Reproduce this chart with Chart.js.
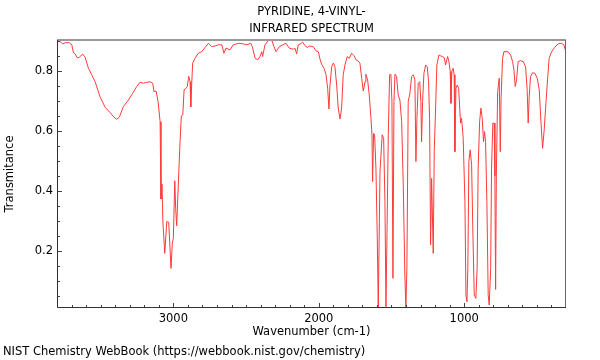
<!DOCTYPE html>
<html><head><meta charset="utf-8">
<script src="https://cdn.jsdelivr.net/npm/chart.js@4/dist/chart.umd.min.js"></script>
<style>html,body{margin:0;padding:0;background:#fff}</style>
</head><body>
<canvas id="c" width="600" height="360"></canvas>
<script>
const titleLines = ['PYRIDINE, 4-VINYL-', 'INFRARED SPECTRUM'];
const xAxisTitle = 'Wavenumber (cm-1)';
const yAxisTitle = 'Transmitance';
const footerText = 'NIST Chemistry WebBook (https://webbook.nist.gov/chemistry)';
const xTickLabels = [3000, 2000, 1000];
const yTickLabels = [0.2, 0.4, 0.6, 0.8];

const wavenumber = [
3797,3779,3760,3744,3715,3698,3687,3676,3660,3646,3623,3607,3584,3561,3538,3504,3469,3435,3408,3389,
3371,3344,3309,3279,3252,3229,3206,3183,3160,3142,3133,3119,3105,3091,3085,3078,3072,3059,3045,3032,
3025,3016,3007,3000,2990,2984,2977,2966,2954,2945,2935,2926,2913,2904,2894,2885,2880,2874,2867,2851,
2828,2805,2782,2759,2736,2713,2691,2667,2652,2638,2610,2588,2553,2519,2496,2468,2457,2438,2420,2404,
2392,2386,2370,2347,2324,2308,2294,2271,2248,2225,2203,2175,2164,2152,2141,2129,2111,2095,2079,2065,
2038,2019,2003,1992,1980,1964,1950,1939,1930,1923,1911,1900,1889,1877,1866,1854,1843,1832,1820,1804,
1790,1774,1758,1744,1729,1717,1705,1694,1682,1676,1664,1653,1641,1634,1630,1623,1616,1607,1598,1591,
1579,1564,1554,1545,1538,1531,1522,1513,1504,1497,1490,1483,1476,1465,1454,1442,1430,1419,1408,1401,
1394,1385,1373,1362,1350,1339,1332,1325,1316,1306,1298,1293,1286,1277,1265,1254,1245,1238,1231,1224,
1213,1206,1196,1188,1174,1167,1151,1137,1128,1114,1105,1096,1091,1085,1076,1069,1064,1057,1048,1038,
1032,1025,1018,1007,995,988,981,975,968,959,949,940,931,920,911,904,894,885,876,867,
860,853,844,835,828,818,812,803,794,789,784,779,770,759,752,746,736,727,698,681,
667,658,649,640,629,612,594,578,567,560,553,544,530,514,498,484,473,461,450,438,
427,416,399,377,354,331,315,306,300
];
const transmittance = [
0.901,0.898,0.890,0.894,0.894,0.887,0.861,0.857,0.843,0.846,0.856,0.846,0.809,0.787,0.764,0.714,0.679,0.661,0.646,0.639,
0.646,0.681,0.703,0.726,0.748,0.762,0.759,0.762,0.764,0.759,0.731,0.733,0.698,0.631,0.373,0.423,0.300,0.192,0.298,0.296,
0.230,0.142,0.226,0.242,0.434,0.342,0.284,0.420,0.564,0.650,0.653,0.737,0.742,0.748,0.782,0.764,0.680,0.753,0.826,0.842,
0.859,0.864,0.878,0.892,0.881,0.883,0.887,0.887,0.859,0.876,0.870,0.887,0.892,0.890,0.887,0.892,0.881,0.842,0.837,0.848,
0.864,0.848,0.887,0.901,0.903,0.881,0.864,0.881,0.887,0.892,0.876,0.872,0.876,0.857,0.887,0.889,0.896,0.884,0.878,0.883,
0.881,0.867,0.864,0.840,0.822,0.809,0.787,0.742,0.673,0.753,0.814,0.826,0.814,0.753,0.676,0.640,0.676,0.787,0.820,0.848,
0.842,0.859,0.851,0.837,0.833,0.826,0.776,0.733,0.764,0.789,0.770,0.720,0.642,0.587,0.431,0.592,0.587,0.476,0.253,0.010,
0.464,0.587,0.576,0.364,0.014,0.253,0.587,0.787,0.789,0.698,0.109,0.698,0.789,0.781,0.720,0.703,0.631,0.420,0.120,0.010,
0.143,0.698,0.726,0.781,0.787,0.770,0.498,0.642,0.759,0.764,0.698,0.564,0.698,0.792,0.820,0.814,0.764,0.642,0.220,0.442,
0.192,0.531,0.687,0.820,0.853,0.851,0.848,0.844,0.820,0.848,0.831,0.798,0.692,0.798,0.809,0.787,0.531,0.742,0.753,0.742,
0.687,0.626,0.642,0.576,0.364,0.053,0.031,0.142,0.498,0.537,0.487,0.253,0.053,0.042,0.142,0.476,0.631,0.676,0.642,0.564,
0.598,0.564,0.364,0.053,0.020,0.142,0.476,0.626,0.626,0.450,0.072,0.450,0.731,0.776,0.531,0.714,0.842,0.864,0.864,0.853,
0.831,0.803,0.748,0.770,0.831,0.834,0.831,0.814,0.737,0.626,0.714,0.781,0.794,0.792,0.776,0.737,0.637,0.542,0.603,0.692,
0.770,0.842,0.864,0.879,0.890,0.892,0.887,0.872,0.865
];

const xMin = 300, xMax = 3800, xMinorStep = 100;
const yMin = 0.01, yMax = 0.903, yMinorStep = 0.05;

const FONT_SIZE = 11.5;
const FONT = FONT_SIZE + 'px "DejaVu Sans"';

const decorPlugin = {
  id: 'decor',
  afterDraw(chart) {
    const ctx = chart.ctx, a = chart.chartArea;
    const xs = chart.scales.x, ys = chart.scales.y;
    ctx.save();
    ctx.strokeStyle = '#444';
    ctx.lineWidth = 1;
    ctx.beginPath();
    for (let v = 400; v < xMax; v += xMinorStep) {
      const px = Math.round(xs.getPixelForValue(v)) + 0.5;
      const len = (v % 1000 === 0) ? 5 : 3;
      ctx.moveTo(px, a.bottom); ctx.lineTo(px, a.bottom - len);
    }
    for (let i = 1; i * yMinorStep < yMax; i++) {
      const v = i * yMinorStep;
      const py = Math.round(ys.getPixelForValue(v)) + 0.5;
      const len = (i % 4 === 0) ? 5 : 3;
      ctx.moveTo(a.left, py); ctx.lineTo(a.left + len, py);
    }
    ctx.stroke();
    ctx.strokeStyle = '#999';
    ctx.lineWidth = 2;
    ctx.beginPath(); ctx.moveTo(a.left, a.top); ctx.lineTo(a.right, a.top); ctx.stroke();
    ctx.strokeStyle = '#666';
    ctx.lineWidth = 1;
    ctx.beginPath(); ctx.moveTo(a.right - 0.5, a.top); ctx.lineTo(a.right - 0.5, a.bottom); ctx.stroke();
    ctx.strokeStyle = '#333';
    ctx.beginPath();
    ctx.moveTo(a.left + 0.5, a.top); ctx.lineTo(a.left + 0.5, a.bottom - 0.5); ctx.lineTo(a.right, a.bottom - 0.5);
    ctx.stroke();
    ctx.fillStyle = '#000';
    ctx.font = FONT;
    ctx.textBaseline = 'middle';
    ctx.textAlign = 'center';
    const cx = (a.left + a.right) / 2;
    ctx.fillText(titleLines[0], cx, 12.5);
    ctx.fillText(titleLines[1], cx, 29.5);
    ctx.fillText(xAxisTitle, cx, 332);
    ctx.textAlign = 'left';
    ctx.fillText(footerText, 3, 352.5);
    ctx.save();
    ctx.translate(10, (a.top + a.bottom) / 2);
    ctx.rotate(-Math.PI / 2);
    ctx.textAlign = 'center';
    ctx.fillText(yAxisTitle, 0, 0);
    ctx.restore();
    ctx.restore();
  }
};

new Chart(document.getElementById('c'), {
  type: 'line',
  data: {
    datasets: [{
      data: wavenumber.map((w, i) => ({ x: w, y: transmittance[i] })),
      borderColor: '#ff3a3a',
      borderWidth: 1,
      pointRadius: 0,
      tension: 0,
      fill: false
    }]
  },
  options: {
    responsive: false,
    animation: false,
    devicePixelRatio: 1,
    layout: { padding: { left: 0, top: 40, right: 34, bottom: 32 } },
    plugins: { legend: { display: false }, tooltip: { enabled: false }, title: { display: false } },
    scales: {
      x: {
        type: 'linear', reverse: true, min: xMin, max: xMax,
        afterBuildTicks: s => { s.ticks = xTickLabels.map(v => ({ value: v })); },
        afterFit: s => { s.height = 20; },
        grid: { display: false, drawTicks: false },
        border: { display: false },
        ticks: { padding: 4, maxRotation: 0, autoSkip: false, color: '#000',
                 font: { family: 'DejaVu Sans', size: FONT_SIZE }, callback: v => String(v) }
      },
      y: {
        type: 'linear', min: yMin, max: yMax,
        afterBuildTicks: s => { s.ticks = yTickLabels.map(v => ({ value: v })); },
        afterFit: s => { s.width = 57; },
        grid: { display: false, drawTicks: false },
        border: { display: false },
        ticks: { padding: 4, autoSkip: false, color: '#000',
                 font: { family: 'DejaVu Sans', size: FONT_SIZE }, callback: v => Number(v).toFixed(1) }
      }
    }
  },
  plugins: [decorPlugin]
});
</script>
</body></html>
